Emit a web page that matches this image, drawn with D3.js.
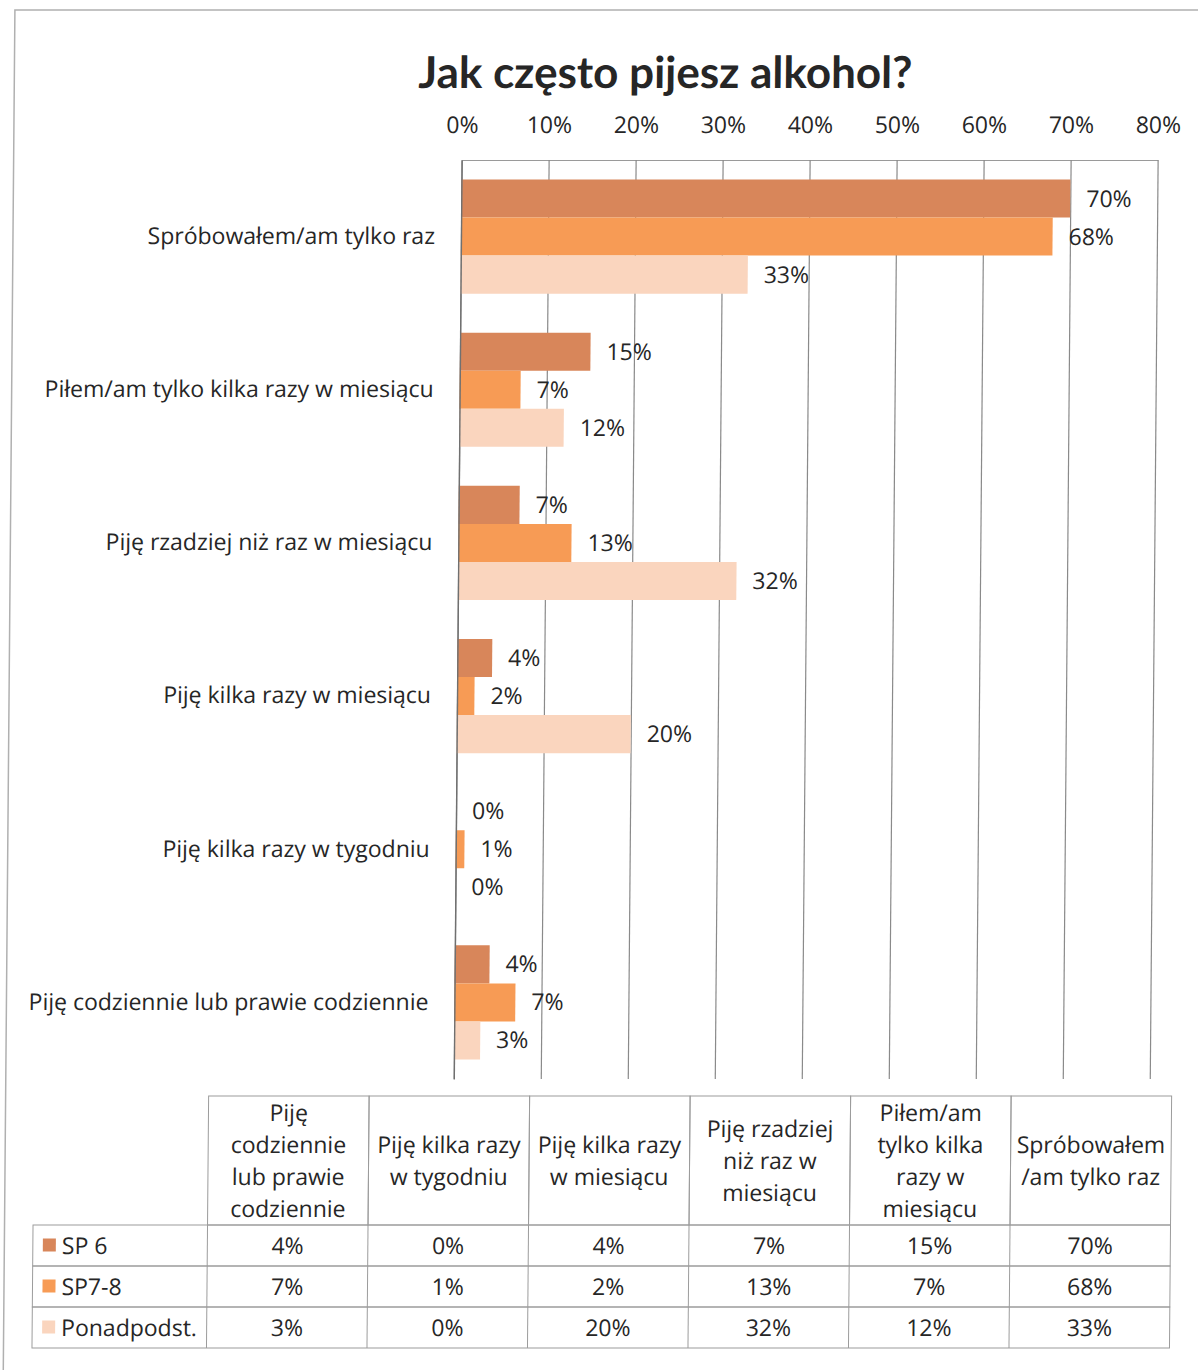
<!DOCTYPE html>
<html lang="pl">
<head>
  <meta charset="UTF-8" />
  <title>Jak często pijesz alkohol?</title>
  <script src="https://d3js.org/d3.v7.min.js"></script>
  <style>
    body { margin: 0; background: #fff; }
    svg { display: block; }
    text { font-family: "Open Sans", "Noto Sans", sans-serif; fill: #262626; }
    .title { font-family: Lato, "Open Sans", sans-serif; font-weight: bold; }
  </style>
</head>
<body>
  <svg id="chart" width="1198" height="1370"></svg>

  <script>
    // table column order (Excel draws the first one at the bottom)
    const categories = [
      "Piję codziennie lub prawie codziennie",
      "Piję kilka razy w tygodniu",
      "Piję kilka razy w miesiącu",
      "Piję rzadziej niż raz w miesiącu",
      "Piłem/am tylko kilka razy w miesiącu",
      "Spróbowałem/am tylko raz"
    ];
    const headerLines = [
      ["Piję", "codziennie", "lub prawie", "codziennie"],
      ["Piję kilka razy", "w tygodniu"],
      ["Piję kilka razy", "w miesiącu"],
      ["Piję rzadziej", "niż raz w", "miesiącu"],
      ["Piłem/am", "tylko kilka", "razy w", "miesiącu"],
      ["Spróbowałem", "/am tylko raz"]
    ];
    const seriesNames = ["SP 6", "SP7-8", "Ponadpodst."];
    const sp6 = [0.04, 0.00, 0.04, 0.07, 0.15, 0.70];
    const sp78 = [0.07, 0.01, 0.02, 0.13, 0.07, 0.68];
    const ponad = [0.03, 0.00, 0.20, 0.32, 0.12, 0.33];
    const ticks = [0, 0.1, 0.2, 0.3, 0.4, 0.5, 0.6, 0.7, 0.8];
    const colors = ["#d8865a", "#f79b55", "#fad5be"];

    const seriesValues = [sp6, sp78, ponad];
    const pct = d3.format(".0%");
    const fs = "23px";

    const svg = d3.select("#chart");

    // the scan leans a little, so the whole chart is sheared slightly
    const g = svg.append("g").attr("transform", "skewX(-0.49)");

    // outer frame
    g.append("rect")
      .attr("x", 15).attr("y", 10)
      .attr("width", 1250).attr("height", 1450)
      .attr("fill", "none").attr("stroke", "#b0b0b0").attr("stroke-width", 1.5);

    g.append("text")
      .attr("class", "title")
      .attr("x", 666).attr("y", 88)
      .attr("text-anchor", "middle")
      .style("font-size", "44px")
      .text("Jak często pijesz alkohol?");

    const plotTop = 160, plotBottom = 1079;

    const x = d3.scaleLinear().domain([0, 0.8]).range([463, 1159]);

    const y = d3.scaleBand()
      .domain(categories.slice().reverse())
      .range([plotTop, plotBottom])
      .paddingInner(0.255)
      .paddingOuter(0.1275);

    const ySeries = d3.scaleBand()
      .domain(seriesNames)
      .range([0, y.bandwidth()]);

    const color = d3.scaleOrdinal().domain(seriesNames).range(colors);

    // gridlines + top labels
    const xAxis = g.append("g")
      .attr("transform", `translate(0,${plotTop})`)
      .call(d3.axisTop(x).tickValues(ticks).tickFormat(pct)
        .tickSize(-(plotBottom - plotTop)).tickSizeOuter(0).tickPadding(27));
    xAxis.select(".domain").attr("stroke", "#9a9a9a");
    xAxis.selectAll(".tick line").attr("stroke", "#8a8a8a").attr("stroke-width", 1.2);
    xAxis.selectAll(".tick text")
      .style("font-size", fs).attr("fill", "#262626")
      .style("font-family", '"Open Sans", sans-serif');

    // bars
    const rows = [];
    categories.forEach((c, i) => {
      seriesNames.forEach((s, j) => {
        rows.push({ cat: c, series: s, value: seriesValues[j][i] });
      });
    });

    g.append("g").selectAll("rect")
      .data(rows)
      .enter().append("rect")
      .attr("x", x(0))
      .attr("y", d => y(d.cat) + ySeries(d.series))
      .attr("width", d => x(d.value) - x(0))
      .attr("height", ySeries.bandwidth())
      .attr("fill", d => color(d.series));

    g.append("g").selectAll("text")
      .data(rows)
      .enter().append("text")
      .attr("x", d => x(d.value) + 16)
      .attr("y", d => y(d.cat) + ySeries(d.series) + ySeries.bandwidth() / 2)
      .attr("dy", "0.35em")
      .style("font-size", fs)
      .text(d => pct(d.value));

    // category axis
    const yAxis = g.append("g")
      .attr("transform", `translate(${x(0)},0)`)
      .call(d3.axisLeft(y).tickSize(0).tickPadding(26));
    yAxis.select(".domain").attr("stroke", "#707070").attr("stroke-width", 1.4);
    yAxis.selectAll(".tick text")
      .style("font-size", fs).attr("fill", "#262626")
      .style("font-family", '"Open Sans", sans-serif');

    // data table
    const tableTop = 1096, headerBottom = 1225, tableBottom = 1348;
    const tableLeft = 43.5;
    const colX = d3.scaleBand().domain(categories).range([218, 1181]);
    const rowY = d3.scaleBand().domain(seriesNames).range([headerBottom, tableBottom]);
    const lineColor = "#9c9c9c";

    const table = g.append("g");

    // header cells
    table.selectAll(".hcell")
      .data(categories)
      .enter().append("rect")
      .attr("x", d => colX(d)).attr("y", tableTop)
      .attr("width", colX.bandwidth()).attr("height", headerBottom - tableTop)
      .attr("fill", "none").attr("stroke", lineColor);

    const lineH = 32;
    categories.forEach((c, i) => {
      const lines = headerLines[i];
      const cy = (tableTop + headerBottom) / 2 - (lines.length - 1) * lineH / 2;
      table.append("text")
        .attr("text-anchor", "middle")
        .style("font-size", fs)
        .selectAll("tspan")
        .data(lines)
        .enter().append("tspan")
        .attr("x", colX(c) + colX.bandwidth() / 2)
        .attr("y", (d, k) => cy + k * lineH)
        .attr("dy", "0.35em")
        .text(d => d);
    });

    // body rows
    seriesNames.forEach((s, j) => {
      table.append("rect")
        .attr("x", tableLeft).attr("y", rowY(s))
        .attr("width", 1181 - tableLeft).attr("height", rowY.bandwidth())
        .attr("fill", "none").attr("stroke", lineColor);
      table.append("rect")
        .attr("x", tableLeft + 10).attr("y", rowY(s) + rowY.bandwidth() / 2 - 7)
        .attr("width", 13).attr("height", 13)
        .attr("fill", color(s));
      table.append("text")
        .attr("x", tableLeft + 29).attr("y", rowY(s) + rowY.bandwidth() / 2)
        .attr("dy", "0.35em")
        .style("font-size", fs)
        .text(s);
      categories.forEach((c, i) => {
        table.append("text")
          .attr("x", colX(c) + colX.bandwidth() / 2)
          .attr("y", rowY(s) + rowY.bandwidth() / 2)
          .attr("dy", "0.35em")
          .attr("text-anchor", "middle")
          .style("font-size", fs)
          .text(pct(seriesValues[j][i]));
      });
    });

    // column dividers through the body
    table.selectAll(".vline")
      .data(categories)
      .enter().append("line")
      .attr("x1", d => colX(d)).attr("x2", d => colX(d))
      .attr("y1", headerBottom).attr("y2", tableBottom)
      .attr("stroke", lineColor);
  </script>
</body>
</html>
